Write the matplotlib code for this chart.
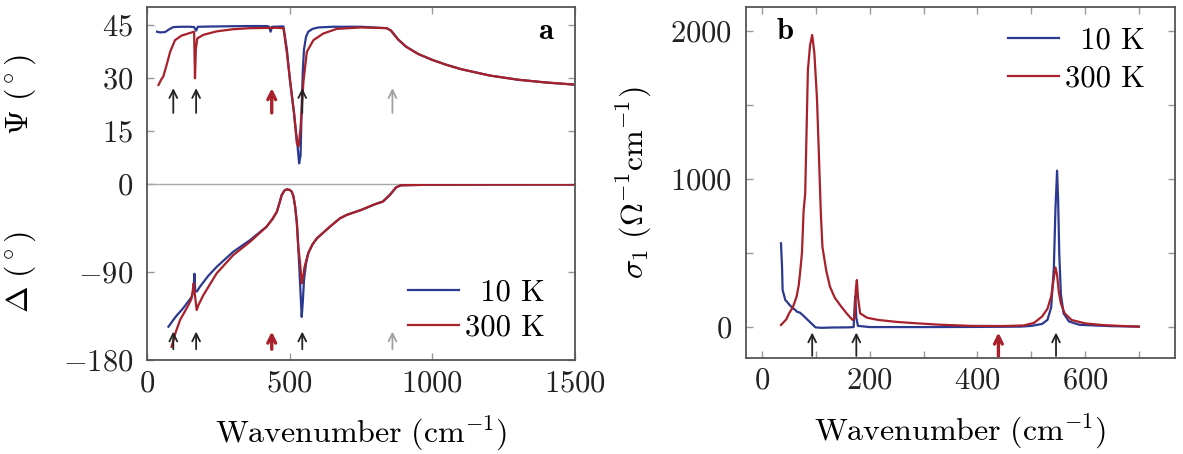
import numpy as np
import matplotlib
matplotlib.use('Agg')
import matplotlib.pyplot as plt
from matplotlib.ticker import MultipleLocator

plt.rcParams['font.family'] = ['cmr10', 'DejaVu Serif']
plt.rcParams['mathtext.fontset'] = 'cm'
plt.rcParams['axes.formatter.use_mathtext'] = True
plt.rcParams['font.size'] = 22

BLUE = '#2b3990'
RED = '#a8202a'

# panel a, top: Psi (deg)
psi_wn_10 = [35, 45, 63, 80, 92, 120, 150, 165, 172, 178, 250, 350, 420, 428, 433, 438, 478, 490,
             501, 515, 527, 533, 538, 542, 546, 550, 557, 565, 580, 600, 650, 750, 840, 855, 866,
             880, 907, 950, 1000, 1050, 1100, 1200, 1300, 1400, 1500]
psi_10 = [43.0, 42.8, 42.9, 43.8, 44.3, 44.4, 44.4, 44.3, 43.3, 44.4, 44.5, 44.6, 44.6, 44.4, 43.0,
          44.4, 44.5, 38.0, 29.0, 20.0, 11.0, 5.7, 8.0, 22.0, 32.0, 38.0, 41.5, 43.0, 43.8, 44.2,
          44.4, 44.4, 44.0, 43.3, 42.2, 40.8, 38.8, 36.7, 35.0, 33.6, 32.4, 30.6, 29.4, 28.6, 28.0]
psi_wn_300 = [40, 50, 57, 70, 81, 98, 121, 157, 165, 168, 171, 176, 197, 244, 302, 361, 455, 478,
              490, 501, 515, 525, 531, 537, 542, 548, 560, 583, 618, 665, 750, 840, 855, 866, 880,
              907, 950, 1000, 1050, 1100, 1200, 1300, 1400, 1500]
psi_300 = [27.9, 29.5, 30.3, 34.0, 37.3, 40.6, 41.9, 42.8, 43.0, 29.8, 38.0, 41.1, 42.1, 43.1, 43.7,
           44.0, 44.1, 44.0, 37.0, 29.5, 20.0, 11.4, 10.5, 15.0, 20.3, 28.8, 37.3, 40.6, 42.5, 43.8,
           44.2, 44.0, 43.3, 42.2, 40.8, 38.8, 36.7, 35.0, 33.6, 32.4, 30.6, 29.4, 28.6, 28.0]

# panel a, bottom: Delta (deg)
del_wn_10 = [75, 100, 127, 157, 163, 166, 169, 175, 186, 215, 244, 302, 361, 419, 440, 455, 465,
             472, 482, 490, 500, 507, 513, 519, 525, 530, 536, 542, 546, 550, 557, 565, 580, 595,
             641, 676, 700, 750, 800, 826, 850, 873, 890, 1000, 1500]
del_10 = [-146, -136, -127, -115.5, -108, -92, -110, -110, -105, -94, -85, -69.6, -57.7, -44, -36,
          -28.7, -19, -11.7, -7, -6, -6.5, -8.3, -13, -23.6, -40, -64.5, -100, -136, -120, -98.5,
          -82, -71, -62, -56, -44, -35.5, -32, -27, -21, -18.5, -12, -3.9, -1.8, -1.2, -1.0]
del_wn_300 = [86, 100, 116, 145, 155, 160, 163, 167, 174, 180, 197, 244, 302, 361, 419, 440, 455,
              465, 472, 482, 490, 500, 507, 513, 519, 525, 530, 536, 542, 547, 552, 565, 580, 595,
              641, 676, 700, 750, 800, 826, 850, 873, 890, 1000, 1500]
del_300 = [-166.5, -152, -139, -124, -118, -110, -102, -112, -129, -124, -114, -91.6, -73, -59.4,
           -44, -36, -28.7, -19, -11.7, -7, -6, -6.5, -8.3, -13, -23.6, -40, -64.5, -80, -101.8,
           -95, -85, -71, -62, -56, -44, -35.5, -32, -27, -21, -18.5, -12, -3.9, -1.8, -1.2, -1.0]

# panel b: sigma_1
sig_wn_10 = [35, 37, 38, 43, 47, 50, 54, 57, 61, 65, 70, 75, 82, 88, 95, 99, 110, 130, 160, 170,
             172, 173, 175, 178, 200, 300, 400, 480, 500, 520, 530, 537, 542, 545, 548, 550, 552,
             555, 560, 570, 590, 650, 700]
sig_10 = [563, 400, 248, 180, 165, 150, 135, 124, 115, 100, 95, 79, 55, 34, 10, -5, -8, -6, -5, -3,
          150, 205, 60, 5, -3, -3, -2, 0, 5, 18, 45, 130, 400, 800, 1054, 850, 500, 220, 90, 35,
          12, 3, 0]
sig_wn_300 = [35, 45, 50, 57, 64, 68, 71, 74, 77, 80, 85, 89, 93, 97, 102, 106, 109, 112, 119, 126,
              135, 147, 158, 168, 172, 174, 176, 178, 182, 195, 216, 250, 285, 330, 389, 450, 486,
              505, 520, 530, 537, 542, 545, 548, 551, 555, 562, 575, 600, 631, 665, 700]
sig_300 = [11, 50, 90, 130, 203, 280, 383, 500, 780, 900, 1734, 1900, 1971, 1850, 1531, 1100, 768,
           540, 380, 270, 195, 135, 85, 45, 60, 250, 315, 200, 90, 60, 45, 32, 23, 13, 5, 4, 8, 25,
           68, 120, 203, 330, 400, 350, 240, 158, 90, 45, 22, 11, 5, 0]

# phonon markers
arrow_a = [92, 172, 437, 544, 860]
arrow_b = [93, 175, 439, 546]
arrow_col = ['#222222', '#222222', RED, '#222222', '#a0a0a0']
arrow_lw = [1.3, 1.3, 2.4, 1.3, 1.3]

LABEL_SIZE = 23


def style(ax):
    for s in ax.spines.values():
        s.set_color('#555555')
        s.set_linewidth(1.3)
    ax.tick_params(which='both', direction='in', length=5, width=1, color='#999999',
                   top=True, right=True, labelcolor='#222222', pad=10)


def arrows(ax, xs, lo, hi):
    for x, c, w in zip(xs, arrow_col, arrow_lw):
        ax.annotate('', xy=(x, hi), xytext=(x, lo),
                    arrowprops=dict(arrowstyle='->', color=c, lw=w, shrinkA=0, shrinkB=0,
                                    mutation_scale=14))


fig = plt.figure(figsize=(11.83, 4.54), dpi=100)
ax1 = fig.add_axes([0.1243, 0.5958, 0.3618, 0.3888])
ax2 = fig.add_axes([0.1243, 0.2070, 0.3618, 0.3888])
ax3 = fig.add_axes([0.6306, 0.2121, 0.3626, 0.7725])
ax2.patch.set_visible(False)

ax1.plot(psi_wn_10, psi_10, color=BLUE, lw=1.6)
ax1.plot(psi_wn_300, psi_300, color=RED, lw=1.6)
ax1.set_xlim(0, 1500)
ax1.set_ylim(0, 50)
ax1.set_yticks([0, 15, 30, 45])
ax1.set_xticks([0, 500, 1000, 1500])
style(ax1)
ax1.tick_params(axis='x', bottom=False, labelbottom=False)
ax1.spines['bottom'].set_color('#a8a8a8')
ax1.spines['bottom'].set_linewidth(1.0)
ax1.set_ylabel(r'$\Psi\ (^\circ)$', fontsize=LABEL_SIZE)
ax1.yaxis.set_label_coords(-0.255, 0.5)
ax1.text(0.93, 0.86, 'a', transform=ax1.transAxes, family='cmb10', ha='center', va='center')
arrows(ax1, arrow_a, 20, 27)

ax2.plot(del_wn_10, del_10, color=BLUE, lw=1.6, label='\u2002' + '10 K')
ax2.plot(del_wn_300, del_300, color=RED, lw=1.6, label='300 K')
ax2.set_xlim(0, 1500)
ax2.set_ylim(-180, 0)
ax2.set_yticks([-180, -90])
ax2.set_xticks([0, 500, 1000, 1500])
style(ax2)
ax2.tick_params(axis='x', top=False, pad=7)
ax2.spines['top'].set_visible(False)
ax2.set_ylabel(r'$\Delta\ (^\circ)$', fontsize=LABEL_SIZE)
ax2.yaxis.set_label_coords(-0.255, 0.5)
ax2.set_xlabel(r'$\mathrm{Wavenumber\ (cm^{-1})}$', fontsize=LABEL_SIZE, labelpad=12)
arrows(ax2, arrow_a, -169, -151)
ax2.legend(loc='center right', bbox_to_anchor=(0.93, 0.28), frameon=False, borderpad=0,
           borderaxespad=0, handlelength=1.67, handletextpad=0.2, labelspacing=0.25)

ax3.plot(sig_wn_10, sig_10, color=BLUE, lw=1.6, label='\u2002' + '10 K')
ax3.plot(sig_wn_300, sig_300, color=RED, lw=1.6, label='300 K')
ax3.set_xlim(-30, 767)
ax3.set_ylim(-210, 2160)
ax3.set_xticks([0, 200, 400, 600])
ax3.set_yticks([0, 1000, 2000])
ax3.xaxis.set_minor_locator(MultipleLocator(100))
ax3.yaxis.set_minor_locator(MultipleLocator(500))
style(ax3)
ax3.tick_params(axis='x', pad=7)
ax3.set_ylabel(r'$\sigma_1\ (\Omega^{-1}\mathrm{cm}^{-1})$', fontsize=LABEL_SIZE)
ax3.yaxis.set_label_coords(-0.215, 0.5)
ax3.set_xlabel(r'$\mathrm{Wavenumber\ (cm^{-1})}$', fontsize=LABEL_SIZE, labelpad=12)
ax3.text(0.091, 0.93, 'b', transform=ax3.transAxes, family='cmb10', ha='center', va='center')
arrows(ax3, arrow_b, -198, -40)
ax3.legend(loc='center right', bbox_to_anchor=(0.93, 0.85), frameon=False, borderpad=0,
           borderaxespad=0, handlelength=1.67, handletextpad=0.2, labelspacing=0.35)

fig.savefig('out.png', dpi=100)
